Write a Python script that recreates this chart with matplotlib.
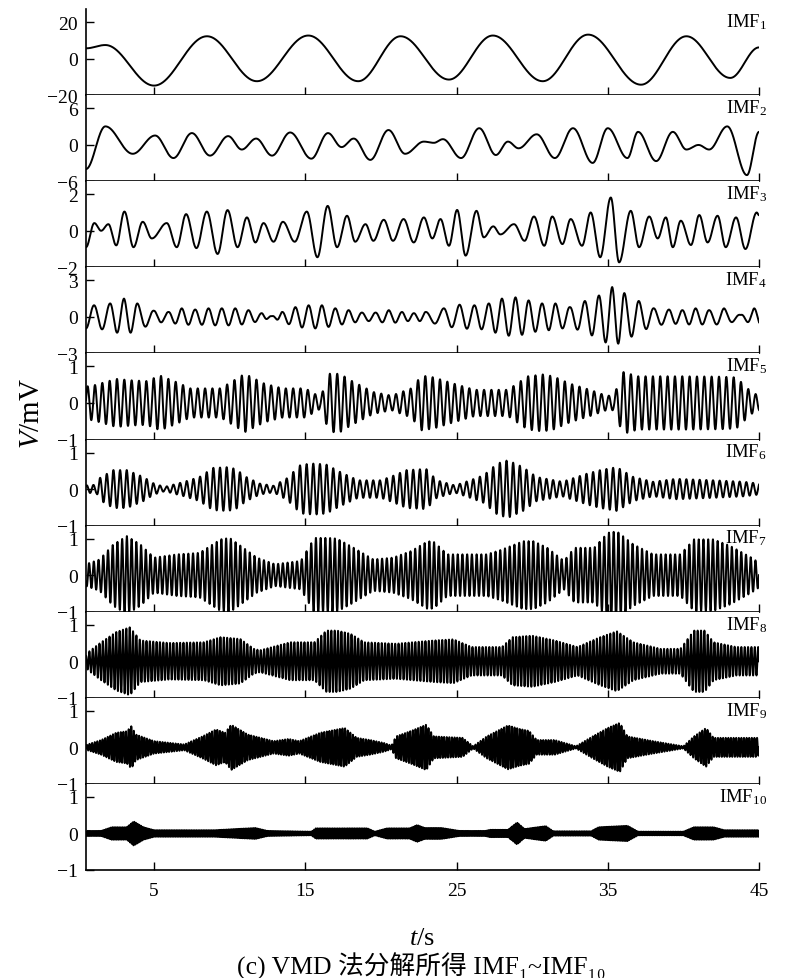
import numpy as np
import matplotlib
matplotlib.use("Agg")
import matplotlib.pyplot as plt

plt.rcParams['font.family'] = ['Liberation Serif', 'DejaVu Serif', 'Noto Sans CJK SC']
plt.rcParams['mathtext.fontset'] = 'custom'
plt.rcParams['mathtext.rm'] = 'Liberation Serif'
plt.rcParams['mathtext.it'] = 'Liberation Serif:italic'

# ---------------- data ----------------
# IMF1 / IMF2 / IMF3: extrema (time s, value mV)
imf1_t = [0.5, 1.78, 5.0, 8.5, 11.8, 15.2, 18.5, 21.3, 24.5, 27.4, 30.7, 33.7, 37.2, 40.2, 43.1, 45.0]
imf1_v = [5.6, 7.4, -14.8, 12.2, -12.4, 12.6, -12.4, 12.2, -11.5, 12.6, -12.4, 13.1, -14.3, 12.2, -10.6, 6.1]

imf2_t = [0.5, 1.78, 3.59, 5.07, 6.28, 7.5, 8.7, 9.9, 10.8, 11.75, 12.8, 14.0, 15.4, 16.5, 17.4,
          18.2, 19.3, 20.5, 21.6, 22.84, 23.5, 24.1, 25.3, 26.5, 27.6, 28.4, 29.1, 30.3, 31.5,
          32.7, 34.0, 35.0, 36.3, 37.0, 38.2, 39.3, 40.2, 41.0, 41.7, 42.9, 44.2, 45.0]
imf2_v = [-4.0, 3.0, -1.5, 1.5, -2.2, 1.9, -1.8, 1.4, -0.8, 1.0, -1.8, 2.0, -2.3, 1.9, -0.4,
          1.0, -2.5, 2.4, -1.5, 0.5, 0.3, 0.9, -2.2, 2.7, -1.7, 0.5, -0.6, 1.7, -2.2,
          2.7, -3.0, 2.7, -2.2, 2.1, -2.7, 2.1, -0.8, -0.05, -0.8, 3.0, -5.0, 2.1]

imf3_t = [0.5, 1.05, 1.5, 1.98, 2.5, 3.04, 3.64, 4.25, 4.85, 5.84, 6.5, 7.12, 7.8, 8.49, 9.2,
          9.86, 10.52, 11.14, 11.7, 12.24, 12.9, 13.52, 14.3, 15.1, 15.8, 16.48, 17.1, 17.76,
          18.3, 18.98, 19.5, 20.19, 20.8, 21.5, 22.17, 22.84, 23.4, 23.94, 24.5, 25.04, 25.6,
          26.32, 26.8, 27.43, 27.9, 28.8, 29.5, 30.12, 30.8, 31.33, 32.0, 32.55, 33.3, 33.87,
          34.5, 35.2, 35.75, 36.52, 37.07, 37.74, 38.3, 38.84, 39.3, 39.83, 40.5, 41.05, 41.6,
          42.26, 42.8, 43.48, 44.1, 44.85, 45.0]
imf3_v = [-0.9, 0.42, 0.0, 0.36, -0.8, 1.05, -0.9, 0.49, -0.42, 0.42, -0.9, 0.91, -0.95, 1.05, -1.27,
          1.13, -0.9, 0.73, -0.64, 0.42, -0.6, 0.49, -0.6, 1.05, -1.45, 1.36, -0.9, 0.82,
          -0.6, 0.36, -0.55, 0.6, -0.55, 0.64, -0.64, 0.73, -0.42, 0.64, -0.82, 1.14, -1.36,
          1.09, -0.36, 0.24, -0.2, 0.36, -0.55, 0.78, -0.82, 0.78, -0.73, 0.64, -0.82, 1.0,
          -1.45, 1.82, -1.73, 1.09, -0.9, 0.78, -0.42, 0.73, -0.9, 0.55, -0.78, 0.86, -0.64,
          0.82, -0.9, 0.73, -1.0, 1.0, 0.85]

# IMF4: peak times and peak amplitudes
imf4_pk_t = [1.03, 2.09, 3.01, 3.9, 5.0, 5.95, 6.83, 7.72, 8.6, 9.48, 10.37, 11.25, 12.13, 12.79,
             13.46, 14.34, 15.22, 16.1, 16.99, 17.87, 18.75, 19.64, 20.52, 21.4, 22.18, 22.95,
             24.15, 25.2, 26.18, 27.13, 28.0, 28.9, 29.77, 30.66, 31.54, 32.49, 33.48, 34.41,
             35.29, 36.1, 37.06, 38.05, 39.05, 39.93, 40.81, 41.7, 42.69, 43.79, 44.68]
imf4_pk_a = [0.95, 1.1, 1.5, 1.1, 0.5, 0.4, 0.7, 0.6, 0.7, 0.7, 0.7, 0.55, 0.3, 0.05,
             0.4, 0.8, 0.95, 0.95, 0.7, 0.55, 0.35, 0.35, 0.55, 0.4, 0.3, 0.4,
             0.7, 1.0, 0.95, 1.1, 1.5, 1.6, 1.35, 1.1, 1.1, 0.8, 1.3, 1.75,
             2.45, 1.95, 1.3, 0.7, 0.6, 0.55, 0.7, 0.55, 0.7, 0.15, 0.7]

# IMF5..IMF10: carrier frequency (Hz) and envelope knots (s, mV)
imf5_f = 2.06
imf5_env_t = [0.5, 1.0, 2.5, 3.5, 4.5, 5.4, 6.5, 7.4, 9.4, 10.0, 11.0, 12.3, 13.5, 15.0, 16.0, 16.6,
              17.3, 18.0, 19.5, 20.7, 22.0, 22.7, 23.5, 24.5, 26.2, 28.4, 29.7, 30.7, 31.4, 32.5,
              33.9, 34.9, 35.4, 36.0, 37.0, 40.0, 42.5, 43.5, 44.5, 45.0]
imf5_env_a = [0.45, 0.48, 0.66, 0.62, 0.6, 0.75, 0.57, 0.4, 0.4, 0.55, 0.8, 0.53, 0.4, 0.4, 0.16, 0.8,
              0.8, 0.62, 0.3, 0.2, 0.4, 0.75, 0.7, 0.57, 0.36, 0.36, 0.73, 0.78, 0.73, 0.53,
              0.35, 0.2, 0.2, 0.85, 0.73, 0.73, 0.72, 0.7, 0.3, 0.2]

imf6_f = 2.27
imf6_env_t = [0.5, 1.2, 1.4, 2.3, 3.2, 4.3, 5.0, 5.7, 7.0, 8.0, 8.9, 9.9, 10.4, 11.1, 12.0, 12.9,
              13.8, 14.7, 15.6, 16.4, 17.3, 18.5, 20.0, 20.9, 21.7, 23.0, 23.7, 24.9, 25.9, 26.8,
              27.7, 28.4, 28.6, 29.4, 30.3, 32.0, 33.6, 34.5, 35.6, 36.7, 38.0, 39.5, 42.0, 44.0, 45.0]
imf6_env_a = [0.1, 0.12, 0.3, 0.52, 0.52, 0.33, 0.15, 0.06, 0.2, 0.33, 0.58, 0.6, 0.55, 0.33, 0.15, 0.09,
              0.3, 0.67, 0.7, 0.67, 0.47, 0.24, 0.24, 0.38, 0.52, 0.55, 0.24, 0.1, 0.24, 0.38,
              0.7, 0.79, 0.75, 0.6, 0.33, 0.2, 0.42, 0.52, 0.6, 0.33, 0.2, 0.28, 0.24, 0.2, 0.15]

imf7_f = 3.2
imf7_env_t = [0.5, 1.4, 2.3, 3.2, 4.1, 5.0, 6.5, 8.0, 9.4, 10.0, 10.9, 11.8, 13.0, 14.7, 15.6, 16.5,
              17.1, 18.2, 19.5, 20.8, 22.0, 23.1, 23.5, 24.4, 27.0, 28.0, 29.4, 30.1, 31.0, 32.1,
              32.8, 34.1, 35.0, 35.6, 36.7, 38.0, 39.8, 40.7, 42.0, 43.1, 44.5, 45.0]
imf7_env_a = [0.3, 0.43, 0.84, 1.07, 0.84, 0.48, 0.57, 0.61, 0.98, 1.02, 0.75, 0.48, 0.3, 0.39, 1.02, 1.02,
              1.0, 0.75, 0.43, 0.48, 0.66, 0.93, 0.91, 0.57, 0.57, 0.7, 0.93, 0.93, 0.75, 0.39,
              0.75, 0.75, 1.16, 1.2, 0.84, 0.57, 0.57, 0.98, 0.98, 0.8, 0.48, 0.34]

imf8_f = 4.5
imf8_env_t = [0.5, 0.65, 1.5, 2.5, 3.4, 4.1, 6.0, 8.3, 9.4, 10.7, 11.6, 12.0, 14.0, 15.6, 16.4, 17.1,
              18.0, 18.9, 21.0, 23.5, 24.8, 26.0, 28.0, 28.7, 30.0, 31.5, 33.0, 34.5, 35.6, 36.7,
              38.5, 39.8, 40.7, 41.4, 42.0, 43.5, 45.0]
imf8_env_a = [0.15, 0.25, 0.52, 0.8, 0.93, 0.57, 0.5, 0.52, 0.66, 0.61, 0.34, 0.3, 0.52, 0.52, 0.84, 0.84,
              0.75, 0.52, 0.48, 0.57, 0.6, 0.39, 0.39, 0.66, 0.7, 0.57, 0.39, 0.66, 0.82, 0.52,
              0.34, 0.34, 0.84, 0.84, 0.52, 0.39, 0.39]

imf9_f = 5.8
imf9_env_t = [0.5, 0.6, 1.5, 2.5, 3.2, 3.5, 3.8, 5.0, 7.0, 8.2, 9.1, 9.7, 10.1, 11.2, 12.9, 13.9,
              14.6, 16.0, 17.6, 18.4, 19.3, 20.2, 20.7, 21.0, 22.0, 23.0, 23.5, 25.4, 26.1, 27.0,
              28.4, 29.2, 29.8, 30.3, 31.5, 32.9, 34.0, 35.0, 35.8, 36.3, 38.0, 40.0, 40.7, 41.5,
              42.0, 44.9, 45.0]
imf9_env_a = [0.05, 0.08, 0.2, 0.4, 0.44, 0.58, 0.35, 0.17, 0.08, 0.3, 0.49, 0.4, 0.62, 0.35, 0.17, 0.23,
              0.17, 0.4, 0.53, 0.26, 0.2, 0.12, 0.05, 0.3, 0.45, 0.62, 0.3, 0.26, 0.03, 0.3,
              0.6, 0.5, 0.45, 0.2, 0.2, 0.03, 0.3, 0.53, 0.67, 0.3, 0.17, 0.03, 0.3, 0.53,
              0.26, 0.26, 0.2]

imf10_f = 9.0
imf10_env_t = [0.5, 1.5, 2.2, 3.2, 3.65, 4.3, 5.0, 9.0, 11.7, 12.5, 15.4, 15.7, 19.1, 19.6, 20.4,
               21.9, 22.4, 22.9, 24.0, 25.2, 26.9, 27.2, 28.4, 29.0, 29.5, 30.0, 30.9, 31.4, 33.9,
               34.4, 36.3, 37.0, 40.0, 40.7, 42.0, 42.7, 45.0]
imf10_env_a = [0.07, 0.07, 0.17, 0.17, 0.33, 0.17, 0.09, 0.09, 0.15, 0.07, 0.05, 0.14, 0.14, 0.05, 0.14,
               0.14, 0.23, 0.15, 0.15, 0.07, 0.07, 0.1, 0.1, 0.3, 0.12, 0.15, 0.2, 0.06, 0.06,
               0.17, 0.21, 0.05, 0.05, 0.17, 0.17, 0.09, 0.09]

imf_names = ['IMF$_{1}$', 'IMF$_{2}$', 'IMF$_{3}$', 'IMF$_{4}$', 'IMF$_{5}$',
             'IMF$_{6}$', 'IMF$_{7}$', 'IMF$_{8}$', 'IMF$_{9}$', 'IMF$_{10}$']
y_tick_max = [20, 6, 2, 3, 1, 1, 1, 1, 1, 1]
x_ticks = [5, 15, 25, 35, 45]
t_start, t_end = 0.5, 45.0

# ---------------- build curves ----------------
t = np.linspace(t_start, t_end, 12000)


def through_extrema(tk, vk):
    tk = np.asarray(tk, float)
    vk = np.asarray(vk, float)
    idx = np.clip(np.searchsorted(tk, t, side='right') - 1, 0, len(tk) - 2)
    s = (t - tk[idx]) / (tk[idx + 1] - tk[idx])
    s = np.clip(s, 0, 1)
    return vk[idx] + (vk[idx + 1] - vk[idx]) * (1 - np.cos(np.pi * s)) / 2


def from_peaks(pk_t, pk_a):
    pk_t = np.asarray(pk_t, float)
    k = np.arange(len(pk_t))
    ph = np.interp(t, pk_t, k)
    lo = t < pk_t[0]
    ph[lo] = (t[lo] - pk_t[0]) / (pk_t[1] - pk_t[0])
    hi = t > pk_t[-1]
    ph[hi] = len(pk_t) - 1 + (t[hi] - pk_t[-1]) / (pk_t[-1] - pk_t[-2])
    env = np.interp(t, pk_t, pk_a)
    return env * np.cos(2 * np.pi * ph)


def carrier(f, env_t, env_a):
    return np.interp(t, env_t, env_a) * np.sin(2 * np.pi * f * t)


curves = [
    through_extrema(imf1_t, imf1_v),
    through_extrema(imf2_t, imf2_v),
    through_extrema(imf3_t, imf3_v),
    from_peaks(imf4_pk_t, imf4_pk_a),
    carrier(imf5_f, imf5_env_t, imf5_env_a),
    carrier(imf6_f, imf6_env_t, imf6_env_a),
    carrier(imf7_f, imf7_env_t, imf7_env_a),
    carrier(imf8_f, imf8_env_t, imf8_env_a),
    carrier(imf9_f, imf9_env_t, imf9_env_a),
    carrier(imf10_f, imf10_env_t, imf10_env_a),
]

# ---------------- figure ----------------
fig = plt.figure(figsize=(8.0, 9.79), dpi=100)
gs = fig.add_gridspec(10, 1, left=86 / 800, right=759 / 800,
                      top=1 - 10 / 979, bottom=1 - 871 / 979, hspace=0)

for i in range(10):
    ax = fig.add_subplot(gs[i])
    A = y_tick_max[i]
    ax.plot(t, curves[i], color='black', lw=1.4)
    ax.set_xlim(t_start, t_end)
    ax.set_ylim(-A, A * 1.356)
    ax.set_yticks([-A, 0, A])
    ax.set_xticks(x_ticks)
    for side in ('top', 'right'):
        ax.spines[side].set_visible(False)
    for side in ('left', 'bottom'):
        ax.spines[side].set_linewidth(1.2)
    ax.tick_params(axis='both', direction='in', length=6, width=1.0,
                   labelsize=14, pad=6)
    ax.tick_params(axis='x', pad=9)
    if i < 9:
        ax.tick_params(axis='x', labelbottom=False)
    ax.text(1.012, 0.975, imf_names[i], transform=ax.transAxes,
            ha='right', va='top', fontsize=13.5)

fig.text(0.040, 0.578, '$V$/mV', rotation=90, ha='center', va='center', fontsize=21)
fig.text(0.527, 0.041, '$t$/s', ha='center', va='center', fontsize=19)
fig.text(0.527, 0.013, '(c) VMD 法分解所得 IMF\u2081~IMF\u2081\u2080',
         ha='center', va='center', fontsize=18.5,
         family=['Liberation Serif', 'DejaVu Serif', 'Noto Sans CJK SC'])

fig.savefig('out.png', dpi=100)
